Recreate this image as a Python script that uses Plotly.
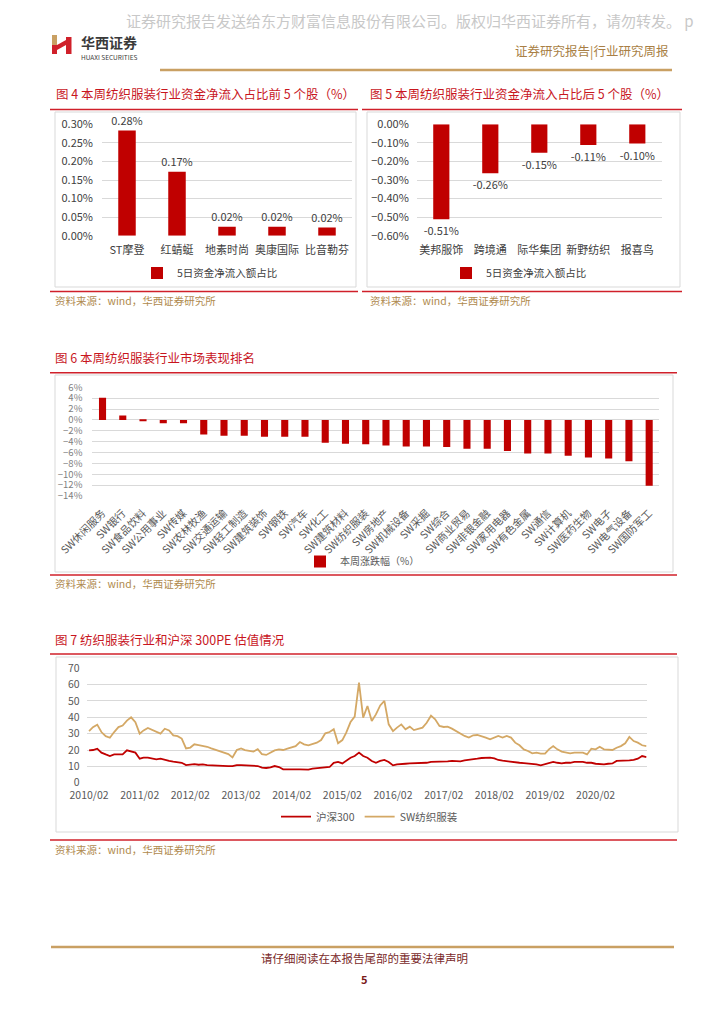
import plotly.graph_objects as go
import pandas as pd

# ---------------- data ----------------
cats4 = ["ST摩登", "红蜻蜓", "地素时尚", "奥康国际", "比音勒芬"]
vals4 = [0.283, 0.172, 0.024, 0.024, 0.022]

cats5 = ["美邦服饰", "跨境通", "际华集团", "新野纺织", "报喜鸟"]
vals5 = [-0.512, -0.264, -0.153, -0.112, -0.104]

cats6 = ["SW休闲服务", "SW银行", "SW食品饮料", "SW公用事业", "SW传媒", "SW农林牧渔",
         "SW交通运输", "SW轻工制造", "SW建筑装饰", "SW钢铁", "SW汽车", "SW化工",
         "SW建筑材料", "SW纺织服装", "SW房地产", "SW机械设备", "SW采掘", "SW综合",
         "SW商业贸易", "SW非银金融", "SW家用电器", "SW有色金属", "SW通信", "SW计算机",
         "SW医药生物", "SW电子", "SW电气设备", "SW国防军工"]
vals6 = [4.1, 0.8, -0.2, -0.6, -0.6, -2.7, -2.9, -2.9, -3.1, -3.1, -3.1, -4.2,
         -4.4, -4.5, -4.7, -4.9, -4.9, -5.0, -5.3, -5.3, -5.7, -6.2, -6.2, -6.6,
         -6.9, -7.1, -7.6, -12.1]

pe_hs300 = [19.8, 20, 20.8, 18.4, 17.3, 16.3, 17.3, 17.3, 17.3, 19.8,
            19, 18.4, 14.7, 15.3, 15.3, 14.7, 14.3, 14.7, 13.9, 13.3,
            12.9, 12.7, 12.2, 10.8, 11.2, 11.4, 11, 11.2, 10.8, 10.6,
            10.4, 10.4, 10.2, 10.2, 10.2, 10.8, 10.8, 10.6, 10.6, 10.2,
            10.2, 9.2, 9, 9.4,
            10.2, 9.6, 8.2, 8.2, 8, 8.2, 8.2, 8.2, 8, 8.6,
            8.8, 9.2, 9.2, 9.6, 12.2, 12.7, 11.8, 13.3, 15.3, 16.3,
            18.4, 16.3, 15.3, 13.3, 12.2, 13.3, 13.9, 12.7, 10.6, 11.2,
            11.6, 11.6, 11.8, 11.8, 12.2, 12.2, 12.2, 12.7, 12.7, 12.7,
            12.9, 13.1, 13.3, 13.3, 13.1,
            13.7, 13.9, 14.3, 14.7, 15.1, 15.3, 15.3, 14.9, 13.9, 13.5,
            13.1, 12.7, 12.2, 12.2, 12, 11.8, 11.6, 11.2, 10.6, 11.2,
            12.2, 12.7, 12.2, 11.8, 12.2, 12.2, 12.7, 12.7, 12.7, 12.2,
            12.2, 11.6, 11.2, 11.2, 11.6, 11.8, 13.3, 13.3, 13.5, 13.7,
            13.9, 14.7, 16.3, 15.7]
pe_textile = [31.5, 34, 35.5, 31, 28.5, 27.5, 31, 34, 35, 38,
              40, 37, 30, 32, 33.5, 32.5, 31, 30, 33, 32,
              29, 28.5, 27, 21, 21.5, 23.5, 23, 22.5, 22, 21,
              20, 19, 18.5, 17.5, 15.5, 20, 21, 20, 19.5, 19,
              20.5, 17.5, 17, 18.5,
              19.8, 20.4, 20, 20.8, 21.4, 22.4, 24.9, 23.5, 22.9, 23.5,
              24.5, 26.1, 30.2, 31, 32.7, 24.1, 26.1, 30.6, 37.1, 40.4,
              61.2, 39.8, 46.9, 37.8, 41.8, 47.3, 50, 35.7, 31.6, 33.7,
              35.7, 32.7, 34.3, 32.2, 33.1, 33.7, 36.7, 41, 38.8, 34.7,
              34.1, 34.3, 33.1, 31.6, 29.6,
              28.6, 27.6, 29, 29.2, 28.6, 27.6, 26.5, 27.6, 28.6, 27.6,
              28.6, 27.6, 24.5, 22.9, 20.4, 19.4, 18, 18.4, 17.8, 17.8,
              20.4, 22.4, 20.4, 19, 18.4, 18, 18.4, 18.4, 18.4, 17.3,
              20.8, 20.4, 22, 20.4, 20.4, 20, 21.4, 22.4, 24.1, 28,
              25.5, 24.5, 22.9, 22.4]
pe_dates = pd.date_range("2010-02-01", periods=len(pe_hs300), freq="MS")
tickvals7 = ["2010-02-01", "2011-02-01", "2012-02-01", "2013-02-01", "2014-02-01",
             "2015-02-01", "2016-02-01", "2017-02-01", "2018-02-01", "2019-02-01",
             "2020-02-01"]
ticktext7 = ["2010/02", "2011/02", "2012/02", "2013/02", "2014/02", "2015/02",
             "2016/02", "2017/02", "2018/02", "2019/02", "2020/02"]

# ---------------- styling ----------------
W, H = 724, 1024
FONT = "Noto Sans CJK SC"
RED = "#C00000"
GOLD_LINE = "#D4A865"
TITLE_RED = "#C8161E"
SRC_COL = "#B08A4E"
GRID = "#D9D9D9"
TXT = "#404040"


def fx(p):
    return p / W


def fy(p):
    return 1 - p / H


fig = go.Figure()

bar_text_font = dict(size=11, color=TXT, family=FONT)
# Chart 4
fig.add_trace(go.Bar(x=cats4, y=vals4, xaxis="x", yaxis="y", legend="legend", showlegend=True,
                     name="5日资金净流入额占比", marker_color=RED, width=0.35,
                     texttemplate="%{y:.2f}%", textposition="outside", cliponaxis=False,
                     constraintext="none", textfont=bar_text_font))
# Chart 5
fig.add_trace(go.Bar(x=cats5, y=vals5, xaxis="x2", yaxis="y2", legend="legend2", showlegend=True,
                     name="5日资金净流入额占比", marker_color=RED, width=0.33,
                     texttemplate="%{y:.2f}%", textposition="outside", cliponaxis=False,
                     constraintext="none", textfont=bar_text_font))
# Chart 6
fig.add_trace(go.Bar(x=cats6, y=vals6, xaxis="x3", yaxis="y3", legend="legend3", showlegend=True,
                     name="本周涨跌幅（%）", marker_color=RED, width=0.35))
# Chart 7
fig.add_trace(go.Scatter(x=pe_dates, y=pe_hs300, xaxis="x4", yaxis="y4", legend="legend4",
                         showlegend=True, name="沪深300", mode="lines",
                         line=dict(color=RED, width=1.8)))
fig.add_trace(go.Scatter(x=pe_dates, y=pe_textile, xaxis="x4", yaxis="y4", legend="legend4",
                         showlegend=True, name="SW纺织服装", mode="lines",
                         line=dict(color=GOLD_LINE, width=1.8)))

tickfont = dict(family=FONT, size=11, color=TXT)
gray_tick = dict(family=FONT, size=9.5, color="#7F7F7F")
leg_common = dict(orientation="h", xanchor="left", yanchor="middle", bgcolor="rgba(0,0,0,0)",
                  borderwidth=0)

layout = dict(
    template="none",
    width=W, height=H, margin=dict(l=0, r=0, t=0, b=0, pad=0, autoexpand=False),
    paper_bgcolor="white", plot_bgcolor="white",
    font=dict(family=FONT, color=TXT),
    showlegend=True,
    xaxis=dict(domain=[fx(102), fx(352)], anchor="y", showgrid=False, zeroline=False,
               showline=False, ticks="", tickfont=tickfont, ticklabelstandoff=6, automargin=False),
    yaxis=dict(domain=[fy(235.7), fy(124.3)], anchor="x", range=[0, 0.30], dtick=0.05,
               tickformat=".2f", ticksuffix="%", showgrid=True, gridcolor=GRID, gridwidth=1,
               zeroline=False, showline=False, ticks="", tickfont=tickfont, ticklabelstandoff=8,
               automargin=False),
    xaxis2=dict(domain=[fx(416.8), fx(661.8)], anchor="y2", showgrid=False, zeroline=False,
                showline=False, ticks="", tickfont=tickfont, ticklabelstandoff=6, automargin=False),
    yaxis2=dict(domain=[fy(235.7), fy(124.3)], anchor="x2", range=[-0.6, 0], dtick=0.1,
                tickformat=".2f", ticksuffix="%", showgrid=True, gridcolor=GRID, gridwidth=1,
                zeroline=False, showline=False, ticks="", tickfont=tickfont, ticklabelstandoff=7,
                automargin=False),
    xaxis3=dict(domain=[fx(92.4), fx(659.3)], anchor="y3", showgrid=False, zeroline=False,
                showline=False, ticks="", tickangle=-45,
                tickfont=dict(family=FONT, size=10.5, color="#595959"),
                ticklabelstandoff=8, automargin=False),
    yaxis3=dict(domain=[fy(496), fy(387.3)], anchor="x3", range=[-14, 6], dtick=2,
                ticksuffix="%", showgrid=True, gridcolor=GRID, gridwidth=1, zeroline=False,
                showline=False, ticks="", tickfont=gray_tick, ticklabelstandoff=9,
                automargin=False),
    xaxis4=dict(domain=[fx(86.7), fx(646.7)], anchor="y4", type="date",
                range=["2010-01-15", "2021-02-03"], tickvals=tickvals7, ticktext=ticktext7,
                showgrid=False, zeroline=False, showline=False, ticks="",
                tickfont=dict(family=FONT, size=10.5, color="#595959"), ticklabelstandoff=5,
                automargin=False),
    yaxis4=dict(domain=[fy(782.7), fy(668.3)], anchor="x4", range=[0, 70], dtick=10,
                showgrid=True, gridcolor=GRID, gridwidth=1, zeroline=False, showline=False,
                ticks="", tickfont=dict(family=FONT, size=10.5, color="#595959"),
                ticklabelstandoff=6, automargin=False),
    legend=dict(x=fx(137), y=fy(273), font=dict(family=FONT, size=10.5, color=TXT), **leg_common),
    legend2=dict(x=fx(446), y=fy(273), font=dict(family=FONT, size=10.5, color=TXT), **leg_common),
    legend3=dict(x=fx(300), y=fy(561.5), font=dict(family=FONT, size=10, color="#595959"),
                 **leg_common),
    legend4=dict(x=fx(276), y=fy(816.7), font=dict(family=FONT, size=10.5, color="#595959"),
                 **leg_common),
)
fig.update_layout(**layout)

shapes = []
annotations = []


def hline(x0, x1, y, color, width):
    shapes.append(dict(type="line", xref="paper", yref="paper", x0=fx(x0), x1=fx(x1),
                       y0=fy(y), y1=fy(y), line=dict(color=color, width=width)))


def box(x0, y0, x1, y1):
    shapes.append(dict(type="rect", xref="paper", yref="paper", x0=fx(x0), x1=fx(x1),
                       y0=fy(y1), y1=fy(y0), line=dict(color="#D9D9D9", width=1)))


def text(x, y, s, size, color, xanchor="left", bold=False):
    if bold:
        s = "<b>" + s + "</b>"
    annotations.append(dict(x=fx(x), y=fy(y), xref="paper", yref="paper", text=s,
                            showarrow=False, xanchor=xanchor, yanchor="middle",
                            font=dict(family=FONT, size=size, color=color)))


# header
text(124, 20, "证券研究报告发送给东方财富信息股份有限公司。版权归华西证券所有，请勿转发。 p",
     15, "#C8C8C8")
shapes.append(dict(type="rect", xref="paper", yref="paper", x0=fx(52), x1=fx(57),
                   y0=fy(45), y1=fy(35), fillcolor="#C9A063", line=dict(width=0)))
shapes.append(dict(type="rect", xref="paper", yref="paper", x0=fx(52), x1=fx(57),
                   y0=fy(54), y1=fy(45), fillcolor="#D0202A", line=dict(width=0)))
shapes.append(dict(type="path", xref="paper", yref="paper",
                   path=f"M {fx(57)} {fy(45)} L {fx(66)} {fy(40)} L {fx(66)} {fy(45)} L {fx(57)} {fy(50)} Z",
                   fillcolor="#D0202A", line=dict(width=0)))
shapes.append(dict(type="rect", xref="paper", yref="paper", x0=fx(66), x1=fx(71.5),
                   y0=fy(54), y1=fy(37), fillcolor="#D0202A", line=dict(width=0)))
text(79, 41.5, "华西证券", 14, "#3A3A3A", bold=True)
text(79, 56.5, "HUAXI SECURITIES", 6.5, "#3A3A3A")
text(671, 50, "证券研究报告|行业研究周报", 12.5, "#A97F45", xanchor="right")
hline(160, 672, 70, "#C9A063", 2.5)

# chart 4 frame
text(54, 93, "图 4 本周纺织服装行业资金净流入占比前 5 个股（%）", 12.5, TITLE_RED)
hline(50, 358, 109.5, "#D0202A", 1.5)
box(55, 112, 356, 287)
hline(50, 358, 291.5, "#D0202A", 1.5)
text(53, 300, "资料来源：wind，华西证券研究所", 10.5, SRC_COL)

# chart 5 frame
text(368, 93, "图 5 本周纺织服装行业资金净流入占比后 5 个股（%）", 12.5, TITLE_RED)
hline(362, 682, 109.5, "#D0202A", 1.5)
box(367, 112, 680, 287)
hline(362, 682, 291.5, "#D0202A", 1.5)
text(368, 300, "资料来源：wind，华西证券研究所", 10.5, SRC_COL)

# chart 6 frame
text(53, 357, "图 6 本周纺织服装行业市场表现排名", 12.5, TITLE_RED)
hline(50, 677, 372.7, "#D0202A", 1.5)
box(55, 375, 673, 572)
hline(50, 677, 575, "#D0202A", 1.5)
text(53, 583, "资料来源：wind，华西证券研究所", 10.5, SRC_COL)

# chart 7 frame
text(53, 639, "图 7 纺织服装行业和沪深 300PE 估值情况", 12.5, TITLE_RED)
hline(50, 677, 654, "#D0202A", 1.5)
box(56, 657, 678, 832)
hline(50, 677, 840, "#D0202A", 1.5)
text(53, 849, "资料来源：wind，华西证券研究所", 10.5, SRC_COL)

# footer
hline(51, 674, 947, "#C9A063", 2.5)
text(364, 958, "请仔细阅读在本报告尾部的重要法律声明", 11.5, "#7A2A2A", xanchor="center")
text(364, 979, "5", 11, "#7A1A1A", xanchor="center", bold=True)

fig.update_layout(shapes=shapes, annotations=annotations)

fig.write_html("out.html", config={"displayModeBar": False},
               post_script="document.body.style.margin='0';")
